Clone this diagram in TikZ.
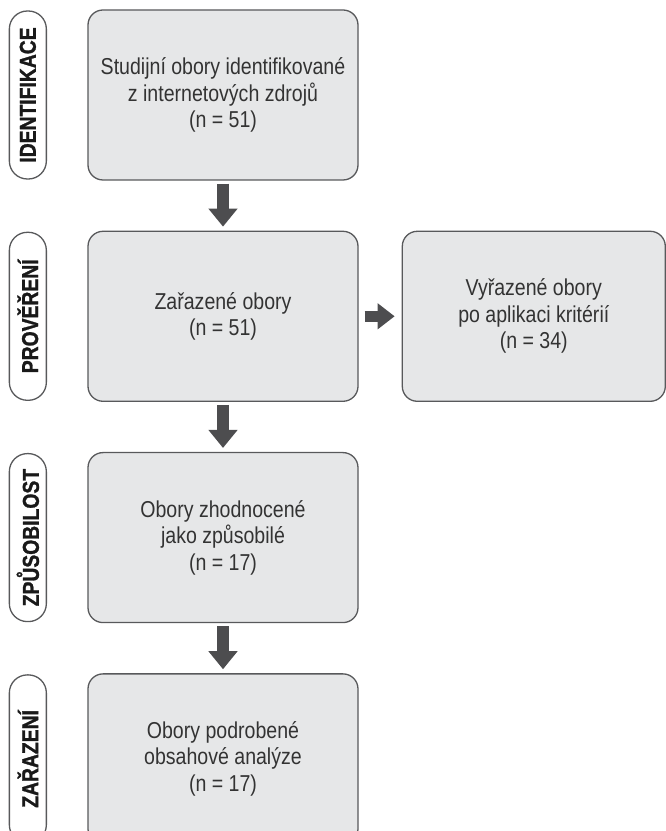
\documentclass[tikz,border=0pt]{standalone}
\usepackage{fontspec}
\setmainfont{Liberation Sans}[FakeStretch=0.85]
\newfontfamily\tagfont{Liberation Sans Bold}[FakeStretch=0.84,FakeBold=1.2]
\usetikzlibrary{positioning,arrows.meta}
\definecolor{boxgray}{HTML}{E6E7E8}
\definecolor{linegray}{HTML}{58595B}
\definecolor{arrowgray}{HTML}{4D4D4F}
\definecolor{textgray}{HTML}{333333}

\begin{document}
\begin{tikzpicture}[x=1pt,y=1pt,
  stagebox/.style={draw=linegray,line width=1.3pt,fill=boxgray,rounded corners=15pt,
    minimum width=270pt,minimum height=170pt,align=center,text=textgray,
    font=\fontsize{23}{26.5}\selectfont},
  tagbox/.style={draw=linegray,line width=1.3pt,fill=white,rounded corners=18pt,
    minimum width=168pt,minimum height=37pt,inner sep=0pt,rotate=90,text=black!90,
    font=\tagfont\fontsize{23}{26}\selectfont},
  downarrow/.style={draw=arrowgray,line width=12pt,-{Triangle[width=28pt,length=18pt]},
    shorten <=3pt,shorten >=4pt},
  sidearrow/.style={draw=arrowgray,line width=11pt,-{Triangle[width=25pt,length=17pt]},
    shorten <=6pt,shorten >=7pt},
  node distance=50pt and 43pt]
\useasboundingbox (0,0) rectangle (666,831);

% Stage boxes
\node[stagebox] (ident) at (223,736) {Studijní obory identifikované\\z internetových zdrojů\\(n = 51)};
\node[stagebox,below=of ident] (check) {Zařazené obory\\(n = 51)};
\node[stagebox,below=of check] (fit) {Obory zhodnocené\\jako způsobilé\\(n = 17)};
\node[stagebox,below=of fit] (incl) {Obory podrobené\\obsahové analýze\\(n = 17)};

% Excluded box
\node[stagebox,minimum width=263pt,right=of check] (excl) {Vyřazené obory\\po aplikaci kritérií\\(n = 34)};

% Side tags
\node[tagbox] (tagident) at ([xshift=-59.5pt]ident.west) {IDENTIFIKACE};
\node[tagbox] (tagcheck) at ([xshift=-59.5pt]check.west) {PROVĚŘENÍ};
\node[tagbox] (tagfit) at ([xshift=-59.5pt]fit.west) {ZPŮSOBILOST};
\node[tagbox] (tagincl) at ([xshift=-59.5pt]incl.west) {ZAŘAZENÍ};

% Arrows
\draw[downarrow] (ident) -- (check);
\draw[downarrow] (check) -- (fit);
\draw[downarrow] (fit) -- (incl);
\draw[sidearrow] (check) -- (excl);
\end{tikzpicture}
\end{document}
